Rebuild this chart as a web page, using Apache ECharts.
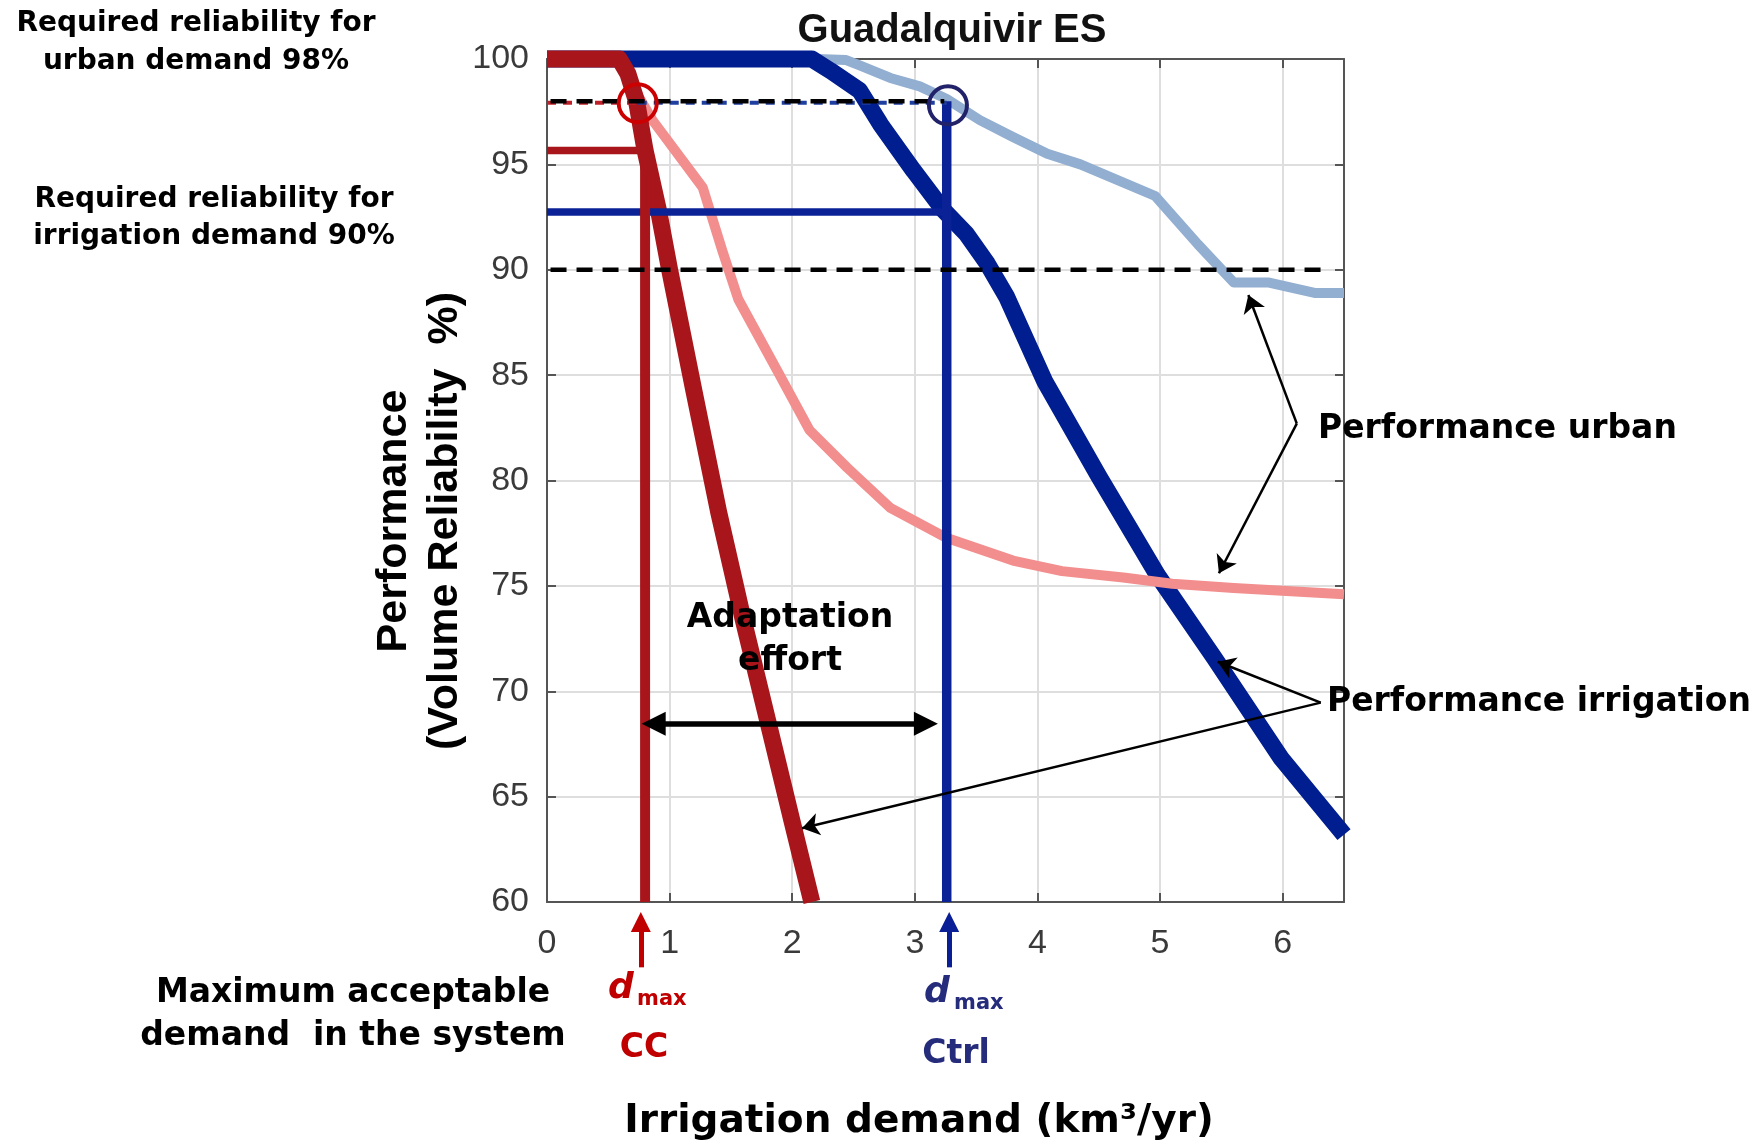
<!DOCTYPE html>
<html>
<head>
<meta charset="utf-8">
<title>Guadalquivir ES</title>
<script src="https://cdn.jsdelivr.net/npm/echarts@6/dist/echarts.min.js"></script>
<style>
  html, body { margin: 0; padding: 0; background: #fff; }
  #chart { width: 1762px; height: 1143px; }
</style>
</head>
<body>
<div id="chart"></div>
<script>
// irrigation demand (km3/yr) -> volume reliability (%)
const ccIrrigation = [[0, 100], [0.59, 100], [0.66, 99.3], [0.73, 98], [0.8, 95.66], [0.91, 92.8],
  [1.0, 90], [1.2, 84.2], [1.4, 78.5], [1.6, 73.4], [1.8, 68.6], [2.0, 63.8], [2.16, 60]];
const ccUrban = [[0, 100], [0.6, 100], [0.75, 98.2], [0.86, 97.1], [1.27, 93.9], [1.43, 90.9],
  [1.56, 88.6], [1.87, 85.3], [2.14, 82.4], [2.45, 80.6], [2.8, 78.7], [3.25, 77.3], [3.8, 76.2],
  [4.2, 75.7], [4.7, 75.4], [5.1, 75.1], [5.6, 74.9], [6.5, 74.6]];
const ctrlIrrigation = [[0, 100], [2.16, 100], [2.31, 99.45], [2.55, 98.5], [2.72, 96.9], [2.99, 94.7],
  [3.23, 92.85], [3.42, 91.7], [3.59, 90.3], [3.75, 88.7], [4.06, 84.7], [4.5, 80.2], [4.98, 75.5],
  [5.44, 71.6], [5.99, 66.8], [6.5, 63.2]];
const ctrlUrban = [[0, 100], [2.2, 100], [2.44, 99.95], [2.55, 99.7], [2.8, 99.1], [3.04, 98.7],
  [3.26, 98.1], [3.53, 97.1], [3.8, 96.3], [4.08, 95.5], [4.35, 95.0], [4.96, 93.5], [5.31, 91.2],
  [5.6, 89.4], [5.88, 89.4], [6.26, 88.9], [6.5, 88.9]];

const urbanTarget = 98;
const irrigationTarget = 90;
const urbanMark = 97.92; // coloured dashes sit just under the black guide
const dmaxCC = 0.8;
const dmaxCtrl = 3.26;
const ccAtDmax = 95.66;
const ctrlAtDmax = 92.74;
const circleCC = [0.74, 97.9];
const circleCtrl = [3.27, 97.8];
const guideStart = -4; // dashed guides run out under the left notes
const urbanGuideEnd = 3.24;
const irrigationGuideEnd = 6.31;
const effortArrow = [[0.87, 68.46], [3.09, 68.46]];
const urbanPointer = {from: [6.115, 82.7], to: [[5.72, 88.8], [5.48, 75.6]]};
const irrigationPointer = {from: [6.31, 69.46], to: [[5.47, 71.4], [2.08, 63.5]]};
const dmaxArrowY = [56.9, 59.05];

const red = '#a8161b';
const pink = '#f28e8e';
const navy = '#001e8f';
const sky = '#92aed0';

const chart = echarts.init(document.getElementById('chart'));

const line = (data, color, width, z, extra = {}) => ({
  type: 'line',
  data,
  symbol: 'none',
  clip: false,
  silent: true,
  z,
  lineStyle: {color, width, join: 'round'},
  ...extra,
});

const pointer = (coords, color, width, symbol, size, z) => ({
  type: 'lines',
  coordinateSystem: 'cartesian2d',
  clip: false,
  silent: true,
  z,
  symbol,
  symbolSize: size,
  lineStyle: {color, width, opacity: 1, curveness: 0},
  data: coords.map((c) => ({coords: c})),
});

const axisLineStyle = {color: '#555', width: 2};
const tickFont = {color: '#3a3a3a', fontSize: 34, fontFamily: 'Liberation Sans'};
const note = (text, x, y, extra = {}) => ({
  type: 'text',
  x,
  y: y + 4,
  z: 100,
  style: {
    text,
    fill: '#000',
    font: 'bold 33px "DejaVu Sans"',
    textAlign: 'center',
    textVerticalAlign: 'middle',
    lineHeight: 43,
    ...extra,
  },
});

chart.setOption({
  animation: false,
  title: {
    text: 'Guadalquivir ES',
    left: 947,
    top: 6,
    textAlign: 'center',
    textStyle: {fontFamily: 'Liberation Sans', fontWeight: 'bold', fontSize: 40, color: '#111'},
  },
  grid: {left: 547, right: 418, top: 59, bottom: 241, outerBoundsMode: 'none'},
  xAxis: [{
    type: 'value', min: 0, max: 6.5, interval: 1, position: 'bottom',
    axisLine: {show: true, onZero: false, lineStyle: axisLineStyle},
    axisTick: {show: true, inside: true, length: 9, lineStyle: axisLineStyle},
    axisLabel: {...tickFont, margin: 25, showMaxLabel: false},
    splitLine: {show: true, lineStyle: {color: '#dedede', width: 2}},
  }, {
    type: 'value', min: 0, max: 6.5, interval: 1, position: 'top',
    axisLine: {show: true, onZero: false, lineStyle: axisLineStyle},
    axisTick: {show: true, inside: true, length: 9, lineStyle: axisLineStyle},
    axisLabel: {show: false},
    splitLine: {show: false},
  }],
  yAxis: [{
    type: 'value', min: 60, max: 100, interval: 5, position: 'left',
    axisLine: {show: true, onZero: false, lineStyle: axisLineStyle},
    axisTick: {show: true, inside: true, length: 9, lineStyle: axisLineStyle},
    axisLabel: {...tickFont, margin: 18},
    splitLine: {show: true, lineStyle: {color: '#dedede', width: 2}},
  }, {
    type: 'value', min: 60, max: 100, interval: 5, position: 'right',
    axisLine: {show: true, onZero: false, lineStyle: axisLineStyle},
    axisTick: {show: true, inside: true, length: 9, lineStyle: axisLineStyle},
    axisLabel: {show: false},
    splitLine: {show: false},
  }],
  series: [
    line(ctrlUrban, sky, 10, 2),
    line(ctrlIrrigation, navy, 17, 3),
    line(ccUrban, pink, 10, 4),
    line(ccIrrigation, red, 17, 5),
    line([[0, ctrlAtDmax], [dmaxCtrl, ctrlAtDmax]], '#0a2296', 7.5, 6),
    line([[0, ccAtDmax], [dmaxCC, ccAtDmax]], red, 7.5, 6),
    line([[dmaxCC, 60], [dmaxCC, ccAtDmax]], red, 10, 7),
    line([[dmaxCtrl, 60], [dmaxCtrl, urbanTarget]], '#0a2296', 9.5, 7),
    line([[0, urbanMark], [circleCC[0], urbanMark]], '#c0202a', 4, 8,
      {lineStyle: {color: '#c0202a', width: 4, type: [9, 7]}}),
    line([[circleCC[0], urbanMark], [dmaxCtrl, urbanMark]], '#1f3fa0', 4, 8,
      {lineStyle: {color: '#1f3fa0', width: 4, type: [9, 7]}}),
    line([[guideStart, urbanTarget], [urbanGuideEnd, urbanTarget]], '#000', 4.5, 9,
      {lineStyle: {color: '#000', width: 4.5, type: [16, 10]}}),
    line([[guideStart, irrigationTarget], [irrigationGuideEnd, irrigationTarget]], '#000', 4.5, 9,
      {lineStyle: {color: '#000', width: 4.5, type: [16, 10]}}),
    {
      type: 'scatter', silent: true, z: 10, symbolSize: 38,
      data: [
        {value: circleCC, itemStyle: {color: 'rgba(0,0,0,0)', borderColor: '#cc0000', borderWidth: 4, opacity: 1}},
        {value: circleCtrl, itemStyle: {color: 'rgba(0,0,0,0)', borderColor: '#22226b', borderWidth: 4, opacity: 1}},
      ],
    },
    pointer([effortArrow], '#000', 5.5, ['triangle', 'triangle'], 24, 11),
    pointer(urbanPointer.to.map((p) => [urbanPointer.from, p]), '#000', 2.5, ['none', 'arrow'], 17, 11),
    pointer(irrigationPointer.to.map((p) => [irrigationPointer.from, p]), '#000', 2.5, ['none', 'arrow'], 17, 11),
    pointer([[[0.765, dmaxArrowY[0]], [0.765, dmaxArrowY[1]]]], '#c00000', 5, ['none', 'triangle'], 20, 11),
    pointer([[[3.28, dmaxArrowY[0]], [3.28, dmaxArrowY[1]]]], '#0a1e96', 5, ['none', 'triangle'], 20, 11),
  ],
  graphic: [
    {
      type: 'text', x: 420, y: 521, rotation: Math.PI / 2, z: 100,
      style: {
        text: 'Performance\n(Volume Reliability  %)',
        fill: '#000', font: 'bold 43px "Liberation Sans"',
        textAlign: 'center', textVerticalAlign: 'middle', lineHeight: 51,
      },
    },
    note('Irrigation demand (km³/yr)', 919, 1118, {font: 'bold 39px "DejaVu Sans"'}),
    note('Required reliability for\nurban demand 98%', 196, 39, {font: 'bold 28px "DejaVu Sans"', lineHeight: 38}),
    note('Required reliability for\nirrigation demand 90%', 214, 214, {font: 'bold 28px "DejaVu Sans"', lineHeight: 37}),
    note('Maximum acceptable\ndemand  in the system', 353, 1011),
    note('Adaptation\neffort', 790, 636),
    note('Performance urban', 1318, 425, {textAlign: 'left'}),
    note('Performance irrigation', 1327, 698, {textAlign: 'left'}),
    note('d', 608, 985, {textAlign: 'left', fill: '#c00000', font: 'italic bold 36px "DejaVu Sans"'}),
    note('max', 637, 996, {textAlign: 'left', fill: '#c00000', font: 'bold 21px "DejaVu Sans"'}),
    note('CC', 644, 1044, {fill: '#c00000'}),
    note('d', 924, 989, {textAlign: 'left', fill: '#262c7c', font: 'italic bold 36px "DejaVu Sans"'}),
    note('max', 954, 1000, {textAlign: 'left', fill: '#262c7c', font: 'bold 21px "DejaVu Sans"'}),
    note('Ctrl', 956, 1050, {fill: '#262c7c'}),
  ],
});
</script>
</body>
</html>
